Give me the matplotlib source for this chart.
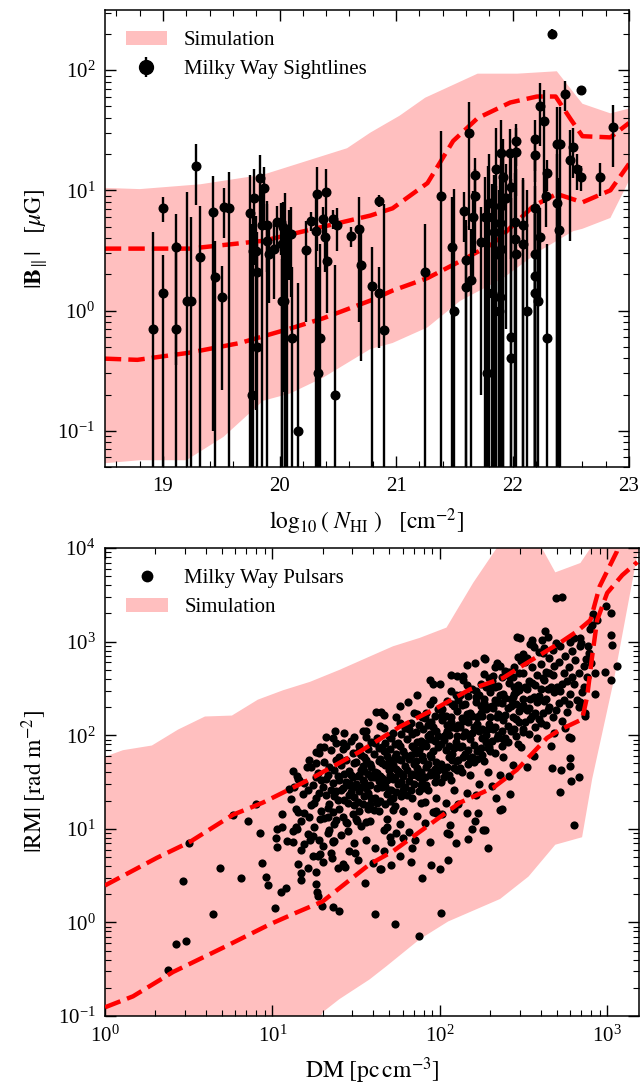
import matplotlib
matplotlib.use("Agg")
import matplotlib.pyplot as plt
import numpy as np
from matplotlib.patches import Patch
from matplotlib.ticker import MultipleLocator

plt.rcParams["font.family"] = "serif"
plt.rcParams["font.serif"] = ["Liberation Serif", "DejaVu Serif"]
plt.rcParams["mathtext.fontset"] = "stix"

# ---- top panel: Milky Way sightlines, log10(N_HI) vs |B_par| [muG]
nhi = [18.91, 19.00, 19.00, 19.11, 19.11, 19.21, 19.24, 19.28, 19.32, 19.43,
       19.45, 19.51, 19.52, 19.57, 19.75, 19.76, 19.78, 19.77, 19.80, 19.81,
       19.81, 19.83, 19.87, 19.85, 19.89, 19.89, 19.91, 19.95, 19.98, 20.01,
       20.02, 20.02, 20.03, 20.05, 20.08, 20.10, 20.06, 20.04, 20.11, 20.16,
       20.23, 20.27, 20.31, 20.32, 20.40, 20.37, 20.39, 20.41, 20.33, 20.35,
       20.46, 20.49, 20.48, 20.61, 20.68, 20.70, 20.79, 20.85, 20.85, 20.90,
       21.25, 21.39, 21.48, 21.50, 21.58, 21.60, 21.60, 21.63, 21.64, 21.66,
       21.68, 21.68, 21.73, 21.76, 21.79, 21.78, 21.80, 21.82, 21.84, 21.86,
       21.86, 21.88, 21.89, 21.90, 21.90, 21.89, 21.90, 21.92, 21.92, 21.94,
       21.98, 21.99, 21.99, 22.02, 22.02, 22.03, 22.03, 22.03, 21.99, 22.09,
       22.09, 22.12, 22.19, 22.19, 22.19, 22.19, 22.19, 22.19, 22.22, 22.24,
       22.24, 22.27, 22.30, 22.30, 22.29, 22.34, 22.38, 22.41, 22.38, 22.40,
       22.45, 22.49, 22.52, 22.55, 22.59, 22.59, 22.75, 22.86]
bpar = [0.70, 7.1, 1.39, 3.35, 0.70, 1.19, 1.19, 16.0, 2.77, 6.6,
        1.89, 1.29, 7.2, 7.1, 6.5, 0.20, 8.7, 3.15, 3.15, 2.08,
        0.50, 12.6, 10.5, 5.1, 5.1, 3.8, 2.95, 3.25, 5.4, 5.4,
        3.6, 1.19, 5.0, 4.5, 4.3, 4.3, 2.08, 1.21, 0.59, 0.10,
        3.2, 5.6, 4.6, 9.4, 9.6, 5.8, 4.1, 2.56, 0.30, 0.59,
        5.8, 5.1, 0.20, 4.2, 4.8, 2.38, 1.59, 1.39, 8.2, 0.69,
        2.08, 8.9, 3.35, 1.0, 6.7, 2.63, 1.58, 29.7, 1.8, 5.95,
        13.4, 9.0, 3.7, 5.95, 5.95, 0.30, 7.9, 1.39, 4.47, 15.0,
        2.95, 1.0, 1.29, 20.6, 7.4, 5.3, 3.25, 12.8, 8.7, 8.7,
        20.6, 0.60, 0.40, 5.4, 3.9, 2.95, 25.8, 20.9, 10.7, 5.1,
        3.6, 1.0, 26.6, 19.7, 7.1, 2.95, 1.95, 1.39, 1.19, 50.4,
        4.1, 37.8, 0.59, 13.8, 9.0, 200.0, 24.5, 24.5, 7.9, 4.7,
        63.5, 17.8, 22.7, 15.0, 12.9, 68.0, 12.9, 33.6]
berr = [3.8, 1.7, 1.5, 3.0, 3.0, 8.4, 4.8, 8.5, 4.7, 6.5,
        1.9, 1.07, 3.2, 7.2, 6.8, 5.0, 6.3, 3.5, 3.0, 1.5,
        4.0, 7.1, 5.0, 5.5, 3.0, 3.9, 1.8, 2.0, 2.0, 2.5,
        4.0, 1.5, 3.0, 5.0, 2.5, 3.0, 2.5, 1.0, 1.7, 1.6,
        2.4, 1.0, 4.8, 6.3, 5.5, 1.5, 2.0, 1.6, 2.0, 3.0,
        1.0, 2.0, 2.2, 0.8, 4.0, 2.0, 1.8, 0.9, 0.9, 7.0,
        3.2, 22.0, 5.4, 9.3, 3.0, 3.0, 3.5, 25.0, 3.0, 4.0,
        5.0, 6.0, 3.5, 7.0, 10.0, 8.0, 12.0, 10.0, 9.0, 18.0,
        8.0, 9.0, 6.0, 18.0, 9.0, 8.0, 6.0, 14.0, 10.0, 8.0,
        12.0, 8.0, 12.0, 14.0, 10.0, 12.0, 10.0, 12.0, 8.0, 7.0,
        9.0, 9.0, 12.0, 8.0, 14.0, 8.0, 6.0, 5.0, 6.0, 27.0,
        3.0, 30.0, 3.0, 4.0, 4.0, 20.0, 25.0, 25.0, 12.0, 8.0,
        18.0, 14.0, 10.0, 5.0, 3.0, 0.0, 4.0, 18.0]

# simulation band and percentile curves (log10 |B|)
sim_up_x = [18.5, 18.8, 19.32, 19.86, 20.58, 20.78, 21.03, 21.25, 21.7, 22.04, 22.38, 22.6, 22.84, 23.0]
sim_up_y = [1.02, 1.01, 1.05, 1.13, 1.35, 1.48, 1.62, 1.77, 1.97, 1.97, 1.99, 1.72, 1.64, 1.68]
sim_lo_x = [18.5, 18.8, 19.2, 19.52, 19.86, 20.09, 20.37, 20.78, 20.97, 21.27, 21.55, 21.92, 22.24, 22.52, 22.6, 22.84, 23.0]
sim_lo_y = [-1.27, -1.245, -1.245, -1.05, -0.75, -0.69, -0.56, -0.32, -0.27, -0.14, 0.08, 0.27, 0.50, 0.66, 0.68, 0.77, 1.08]
hi_pct_x = [18.5, 19.23, 19.86, 20.78, 20.97, 21.27, 21.49, 21.7, 21.98, 22.21, 22.37, 22.5, 22.6, 22.84, 23.0]
hi_pct_y = [0.515, 0.515, 0.58, 0.79, 0.85, 1.06, 1.41, 1.60, 1.73, 1.78, 1.78, 1.59, 1.45, 1.44, 1.56]
lo_pct_x = [18.5, 18.78, 19.23, 19.66, 20.09, 20.37, 20.78, 20.97, 21.27, 21.55, 21.83, 21.95, 22.18, 22.38, 22.6, 22.84, 23.0]
lo_pct_y = [-0.40, -0.41, -0.35, -0.27, -0.15, -0.066, 0.083, 0.166, 0.27, 0.41, 0.556, 0.66, 0.87, 0.97, 0.90, 1.0, 1.22]

# ---- bottom panel: simulation band and curves (log10 DM, log10 |RM|)
rm_up_x = [0.0, 0.107, 0.28, 0.436, 0.597, 0.758, 0.913, 1.063, 1.224, 1.403, 1.58, 1.72, 1.88, 2.04,
           2.20, 2.34, 2.40, 2.58, 2.61, 2.69, 2.84, 2.90, 2.95, 3.25]
rm_up_y = [1.77, 1.84, 1.89, 2.06, 2.20, 2.21, 2.38, 2.48, 2.57, 2.70, 2.84, 2.95, 3.04, 3.15,
           3.63, 4.0, 4.3, 4.3, 4.0, 3.74, 3.84, 4.0, 4.3, 4.3]
rm_lo_x = [0.0, 1.22, 1.30, 1.40, 1.58, 1.68, 1.88, 2.05, 2.36, 2.53, 2.69, 2.85, 2.91, 3.04, 3.18, 3.25]
rm_lo_y = [-1.3, -1.3, -0.96, -0.82, -0.61, -0.47, -0.18, 0.01, 0.25, 0.49, 0.83, 0.91, 1.53, 2.59, 3.93, 4.3]
rm_hi_pct_x = [0.0, 0.31, 0.507, 0.764, 0.943, 1.224, 1.522, 1.76, 1.98, 2.18, 2.28, 2.376, 2.50,
               2.72, 2.82, 2.90, 2.955, 3.057, 3.09]
rm_hi_pct_y = [0.395, 0.69, 0.86, 1.15, 1.28, 1.53, 1.825, 2.09, 2.29, 2.49, 2.55, 2.61, 2.75,
               2.99, 3.11, 3.23, 3.59, 3.96, 4.2]
rm_lo_pct_x = [0.0, 0.167, 0.406, 0.705, 0.985, 1.146, 1.30, 1.58, 1.72, 1.92, 2.12, 2.32, 2.46,
               2.64, 2.72, 2.85, 2.88, 2.91, 2.94, 3.0, 3.09, 3.18]
rm_lo_pct_y = [-0.907, -0.79, -0.53, -0.27, -0.02, 0.107, 0.224, 0.62, 0.76, 1.02, 1.28, 1.44, 1.63,
               1.97, 2.06, 2.17, 2.41, 2.84, 3.23, 3.52, 3.71, 3.85]

# Milky Way pulsars (log10 DM, log10 |RM|)
pulsars = [
    # sparse outliers
    (0.378, -0.51), (0.424, -0.235), (0.484, -0.2), (0.468, 0.44), (0.503, 0.85), (0.643, 0.085),
    (0.687, 0.58), (0.766, 1.15), (0.81, 0.47), (0.852, 1.08), (0.90, 1.27), (0.925, 0.96),
    (0.94, 0.63), (0.961, 0.49), (0.971, 0.395), (1.015, 0.15), (1.019, 0.90), (1.029, 0.81),
    (1.049, 0.33), (1.08, 0.37), (1.03, 1.0), (1.06, 1.02), (1.06, 1.16), (1.09, 0.87),
    (1.12, 0.86), (1.144, 1.0), (1.168, 0.77), (1.168, 0.53), (1.19, 1.17), (1.214, 0.94),
    (1.224, 0.885), (1.24, 0.71), (1.26, 0.54), (1.264, 0.32), (1.27, 0.28), (1.294, 0.17),
    (1.284, 1.1), (1.284, 0.73), (1.304, 0.65), (1.333, 1.13), (1.339, 0.99), (1.353, 0.69),
    (1.36, 0.16), (1.363, 0.86), (1.37, 0.87), (1.40, 0.12), (1.433, 0.59), (1.443, 1.06),
    (1.493, 0.74), (1.503, 1.08), (1.552, 0.42), (1.562, 1.07), (1.612, 0.09), (1.731, -0.02),
    (1.876, -0.146), (2.006, 0.096), (1.891, 0.477), (1.95, 0.61), (2.0, 0.566), (2.05, 0.67),
    (2.29, 0.79), (2.27, 0.99), (1.83, 0.65), (1.761, 0.71), (1.706, 0.61), (1.648, 0.57),
    (1.60, 0.64), (1.666, 0.76), (1.835, 0.79), (1.85, 0.885), (1.74, 0.957), (1.70, 0.91),
    (1.78, 0.90), (2.056, 0.94), (2.096, 0.85), (2.17, 0.89), (2.195, 1.0), (2.26, 0.99),
    (2.06, 1.045), (2.209, 1.08), (2.716, 1.39), (2.80, 1.045), (2.782, 1.51), (2.36, 1.20),
    (2.37, 1.21), (2.334, 1.33), (2.418, 1.37), (2.227, 1.17), (2.16, 1.17), (1.98, 1.19),
    (1.91, 1.29), (1.78, 1.19), (1.72, 1.20),
    (2.697, 3.465), (2.73, 3.48), (2.995, 3.38), (3.025, 3.31), (2.915, 3.30), (2.94, 3.23),
    (2.91, 3.18), (2.896, 3.13), (3.025, 3.07), (3.03, 2.96), (3.06, 2.74), (3.02, 2.59),
    (2.985, 2.68), (2.925, 2.44), (2.93, 2.67), (2.876, 2.81), (2.906, 2.77), (2.846, 2.99),
    (2.885, 2.95), (2.836, 3.04), (2.80, 3.04), (2.866, 2.24), (2.836, 2.35), (2.786, 1.97),
    (2.78, 1.76), (2.78, 1.67), (2.726, 1.63), (2.673, 1.65), (2.832, 1.55), (2.627, 3.11),
    (2.46, 3.05), (2.48, 3.04), (2.27, 2.81), (2.21, 2.77), (2.33, 2.73), (1.94, 2.59),
    (1.81, 2.35), (1.65, 2.25), (1.62, 2.25), (2.0, 2.55), (2.10, 2.63), (2.14, 2.63),
    (2.55, 2.97), (2.61, 3.02), (1.373, 2.05), (1.32, 1.98), (1.284, 1.87), (1.31, 1.87),
    (1.204, 1.66), (1.144, 1.56), (1.15, 1.53), (1.10, 1.43), (1.26, 1.82), (1.26, 1.70),
    (1.42, 1.92), (1.49, 1.98), (1.56, 2.04),
    # dense cloud
    (1.11, 1.32), (1.12, 0.98), (1.13, 1.45), (1.14, 1.21), (1.15, 0.62), (1.16, 1.52), (1.17, 1.08),
    (1.18, 1.37), (1.19, 0.84), (1.12, 1.62), (1.15, 1.18), (1.17, 0.45), (1.19, 1.49), (1.14, 1.02),
    (1.21, 1.41), (1.22, 1.13), (1.23, 1.66), (1.24, 0.92), (1.25, 1.28), (1.26, 1.55), (1.27, 0.71),
    (1.28, 1.38), (1.29, 1.19), (1.21, 0.58), (1.22, 1.74), (1.24, 1.47), (1.25, 1.02), (1.26, 1.33),
    (1.27, 1.60), (1.28, 0.88), (1.29, 1.52), (1.23, 1.25), (1.26, 0.41), (1.28, 1.81),
    (1.30, 1.45), (1.31, 1.12), (1.31, 1.71), (1.32, 1.36), (1.33, 0.95), (1.33, 1.58), (1.34, 1.27),
    (1.35, 1.84), (1.35, 0.74), (1.36, 1.49), (1.36, 1.18), (1.37, 1.63), (1.37, 1.05), (1.38, 1.40),
    (1.38, 1.92), (1.39, 1.31), (1.39, 0.58), (1.32, 1.53), (1.34, 1.66), (1.35, 1.41), (1.36, 0.87),
    (1.37, 1.35), (1.38, 1.74), (1.39, 1.56), (1.30, 0.82), (1.33, 1.22), (1.36, 1.97), (1.38, 1.09),
    (1.40, 1.52), (1.40, 1.21), (1.41, 1.68), (1.41, 0.93), (1.42, 1.44), (1.42, 1.85), (1.43, 1.31),
    (1.43, 1.59), (1.44, 1.07), (1.44, 1.73), (1.45, 1.47), (1.45, 1.28), (1.46, 1.62), (1.46, 0.76),
    (1.47, 1.39), (1.47, 1.94), (1.48, 1.55), (1.48, 1.16), (1.49, 1.70), (1.49, 1.34), (1.40, 1.77),
    (1.41, 1.42), (1.42, 1.13), (1.43, 2.02), (1.44, 1.50), (1.45, 0.98), (1.46, 1.36), (1.47, 1.58),
    (1.48, 1.45), (1.49, 0.85), (1.42, 0.62), (1.44, 1.89), (1.46, 1.49), (1.48, 1.81), (1.49, 1.25),
    (1.50, 1.48), (1.50, 1.71), (1.51, 1.29), (1.51, 1.56), (1.52, 1.88), (1.52, 1.40), (1.53, 1.03),
    (1.53, 1.63), (1.54, 1.52), (1.54, 2.05), (1.55, 1.35), (1.55, 1.77), (1.56, 1.44), (1.56, 0.88),
    (1.57, 1.59), (1.57, 1.21), (1.58, 1.69), (1.58, 1.47), (1.59, 1.93), (1.59, 1.33), (1.50, 1.11),
    (1.51, 1.82), (1.52, 1.58), (1.53, 1.45), (1.54, 1.27), (1.55, 1.62), (1.56, 1.98), (1.57, 1.38),
    (1.58, 1.08), (1.59, 1.55), (1.51, 0.67), (1.53, 1.79), (1.54, 1.67), (1.55, 1.50), (1.56, 1.74),
    (1.57, 1.85), (1.58, 1.27), (1.59, 1.66), (1.52, 1.19), (1.57, 2.14),
    (1.605, 1.55), (1.605, 1.80), (1.615, 1.33), (1.615, 1.61), (1.625, 1.97), (1.625, 1.44),
    (1.635, 1.19), (1.635, 1.72), (1.645, 1.56), (1.645, 2.10), (1.655, 1.45), (1.655, 1.87),
    (1.665, 1.51), (1.665, 0.99), (1.675, 1.68), (1.675, 1.26), (1.685, 1.78), (1.685, 1.52),
    (1.695, 1.99), (1.695, 1.41), (1.605, 1.20), (1.615, 1.92), (1.625, 1.60), (1.635, 1.51),
    (1.645, 1.30), (1.655, 1.70), (1.665, 2.08), (1.675, 1.46), (1.685, 1.10), (1.695, 1.63),
    (1.615, 0.80), (1.635, 1.86), (1.645, 1.75), (1.655, 1.54), (1.665, 1.83), (1.675, 1.92),
    (1.685, 1.37), (1.695, 1.74), (1.625, 1.28), (1.665, 2.22), (1.645, 0.57), (1.685, 1.02),
    (1.70, 1.58), (1.70, 1.85), (1.71, 1.42), (1.71, 1.70), (1.72, 2.02), (1.72, 1.53), (1.73, 1.24),
    (1.73, 1.77), (1.74, 1.64), (1.74, 2.19), (1.75, 1.48), (1.75, 1.92), (1.76, 1.60), (1.76, 1.05),
    (1.77, 1.73), (1.77, 1.35), (1.78, 1.83), (1.78, 1.56), (1.79, 2.08), (1.79, 1.45), (1.70, 1.30),
    (1.71, 1.97), (1.72, 1.68), (1.73, 1.55), (1.74, 1.39), (1.75, 1.75), (1.76, 2.13), (1.77, 1.50),
    (1.78, 1.19), (1.79, 1.67), (1.71, 0.86), (1.73, 1.91), (1.74, 1.80), (1.75, 1.62), (1.76, 1.88),
    (1.77, 2.01), (1.78, 1.41), (1.79, 1.79), (1.72, 1.33), (1.76, 2.31),
    (1.805, 1.63), (1.805, 1.96), (1.815, 1.51), (1.815, 1.75), (1.825, 2.13), (1.825, 1.58),
    (1.835, 1.33), (1.835, 1.88), (1.845, 1.69), (1.845, 2.24), (1.855, 1.57), (1.855, 2.03),
    (1.865, 1.65), (1.865, 1.14), (1.875, 1.84), (1.875, 1.40), (1.885, 1.94), (1.885, 1.61),
    (1.895, 2.19), (1.895, 1.49), (1.805, 1.36), (1.815, 2.07), (1.825, 1.79), (1.835, 1.59),
    (1.845, 1.48), (1.855, 1.81), (1.865, 2.23), (1.875, 1.55), (1.885, 1.28), (1.895, 1.78),
    (1.815, 0.97), (1.835, 2.01), (1.845, 1.86), (1.855, 1.72), (1.865, 1.93), (1.875, 2.11),
    (1.885, 1.47), (1.895, 1.89), (1.825, 1.42), (1.865, 2.43),
    (1.90, 1.74), (1.90, 2.07), (1.91, 1.55), (1.91, 1.92), (1.92, 2.24), (1.92, 1.66), (1.93, 1.41),
    (1.93, 1.99), (1.94, 1.79), (1.94, 2.33), (1.95, 1.61), (1.95, 2.14), (1.96, 1.83), (1.96, 1.18),
    (1.97, 1.94), (1.97, 1.50), (1.98, 2.04), (1.98, 1.71), (1.99, 2.28), (1.99, 1.63), (1.90, 1.44),
    (1.91, 2.18), (1.92, 1.88), (1.93, 1.69), (1.94, 1.57), (1.95, 1.96), (1.96, 2.38), (1.97, 1.64),
    (1.98, 1.33), (1.99, 1.87), (1.91, 1.06), (1.93, 2.11), (1.94, 2.01), (1.95, 1.77), (1.96, 2.09),
    (1.97, 2.21), (1.98, 1.56), (1.99, 1.99), (1.92, 1.47), (1.96, 2.55), (1.94, 0.86), (1.98, 1.17),
    (2.005, 1.91), (2.015, 2.22), (2.025, 1.63), (2.035, 2.01), (2.045, 2.37), (2.055, 1.77),
    (2.065, 1.52), (2.075, 2.09), (2.085, 1.86), (2.095, 2.43), (2.005, 1.69), (2.015, 2.16),
    (2.025, 1.95), (2.035, 1.28), (2.045, 2.05), (2.055, 1.58), (2.065, 2.14), (2.075, 1.80),
    (2.085, 2.31), (2.095, 1.72), (2.005, 1.50), (2.015, 2.28), (2.025, 1.99), (2.035, 1.84),
    (2.045, 1.66), (2.055, 2.00), (2.065, 2.47), (2.075, 1.74), (2.085, 1.41), (2.095, 1.93),
    (2.015, 1.16), (2.035, 2.20), (2.045, 2.11), (2.055, 1.88), (2.065, 2.19), (2.075, 2.33),
    (2.085, 1.65), (2.095, 2.08), (2.025, 1.55), (2.065, 2.64), (2.045, 0.96), (2.085, 1.21),
    (2.10, 1.99), (2.10, 2.26), (2.11, 1.74), (2.11, 2.11), (2.12, 2.43), (2.12, 1.87), (2.13, 1.61),
    (2.13, 2.18), (2.14, 1.99), (2.14, 2.59), (2.15, 1.80), (2.15, 2.33), (2.16, 2.01), (2.16, 1.38),
    (2.17, 2.14), (2.17, 1.69), (2.18, 2.24), (2.18, 1.96), (2.19, 2.49), (2.19, 1.77), (2.10, 1.63),
    (2.11, 2.38), (2.12, 2.09), (2.13, 1.89), (2.14, 1.77), (2.15, 2.16), (2.16, 2.54), (2.17, 1.84),
    (2.18, 1.57), (2.19, 2.02), (2.11, 1.26), (2.13, 2.32), (2.14, 2.15), (2.15, 2.03), (2.16, 2.23),
    (2.17, 2.42), (2.18, 1.76), (2.19, 2.20), (2.12, 1.65), (2.16, 2.75),
    (2.205, 2.09), (2.215, 2.41), (2.225, 1.83), (2.235, 2.20), (2.245, 2.55), (2.255, 1.97),
    (2.265, 1.72), (2.275, 2.28), (2.285, 2.07), (2.295, 2.61), (2.205, 1.90), (2.215, 2.36),
    (2.225, 2.12), (2.235, 1.48), (2.245, 2.24), (2.255, 1.79), (2.265, 2.34), (2.275, 2.00),
    (2.285, 2.52), (2.295, 1.87), (2.205, 1.71), (2.215, 2.47), (2.225, 2.19), (2.235, 2.04),
    (2.245, 1.86), (2.255, 2.21), (2.265, 2.65), (2.275, 1.93), (2.285, 1.61), (2.295, 2.12),
    (2.215, 1.36), (2.235, 2.43), (2.245, 2.31), (2.255, 2.07), (2.265, 2.39), (2.275, 2.52),
    (2.285, 1.86), (2.295, 2.30), (2.225, 1.75), (2.265, 2.83),
    (2.30, 2.19), (2.30, 2.46), (2.31, 1.94), (2.31, 2.31), (2.32, 2.63), (2.32, 2.07), (2.33, 1.81),
    (2.33, 2.38), (2.34, 2.19), (2.34, 2.77), (2.35, 2.00), (2.35, 2.53), (2.36, 2.21), (2.36, 1.58),
    (2.37, 2.34), (2.37, 1.89), (2.38, 2.44), (2.38, 2.16), (2.39, 2.69), (2.39, 1.97), (2.30, 1.83),
    (2.31, 2.58), (2.32, 2.29), (2.33, 2.09), (2.34, 1.97), (2.35, 2.36), (2.36, 2.74), (2.37, 2.04),
    (2.38, 1.77), (2.39, 2.22), (2.31, 1.46), (2.33, 2.52), (2.34, 2.35), (2.35, 2.23), (2.36, 2.43),
    (2.37, 2.62), (2.38, 1.96), (2.39, 2.40),
    (2.405, 2.29), (2.415, 2.56), (2.425, 2.04), (2.435, 2.41), (2.445, 2.73), (2.455, 2.17),
    (2.465, 1.91), (2.475, 2.48), (2.485, 2.29), (2.495, 2.87), (2.405, 2.10), (2.415, 2.63),
    (2.425, 2.31), (2.435, 1.68), (2.445, 2.44), (2.455, 1.99), (2.465, 2.54), (2.475, 2.26),
    (2.485, 2.79), (2.495, 2.07), (2.405, 1.93), (2.415, 2.68), (2.425, 2.39), (2.435, 2.19),
    (2.445, 2.07), (2.455, 2.46), (2.465, 2.84), (2.475, 2.14), (2.485, 1.87), (2.495, 2.32),
    (2.415, 1.56), (2.435, 2.62), (2.445, 2.51), (2.455, 2.33), (2.475, 2.66),
    (2.50, 2.39), (2.50, 2.66), (2.51, 2.14), (2.51, 2.51), (2.52, 2.83), (2.52, 2.27), (2.53, 2.01),
    (2.53, 2.58), (2.54, 2.39), (2.54, 2.97), (2.55, 2.20), (2.55, 2.73), (2.56, 2.41), (2.56, 1.78),
    (2.57, 2.54), (2.57, 2.09), (2.58, 2.64), (2.58, 2.36), (2.59, 2.89), (2.59, 2.17), (2.50, 2.03),
    (2.51, 2.78), (2.52, 2.49), (2.53, 2.29), (2.54, 2.17), (2.55, 2.56), (2.56, 2.94), (2.57, 2.24),
    (2.58, 1.97), (2.59, 2.42), (2.52, 1.66), (2.55, 3.02),
    (2.605, 2.49), (2.605, 2.76), (2.615, 2.24), (2.615, 2.61), (2.625, 2.93), (2.625, 2.37),
    (2.635, 2.11), (2.635, 2.68), (2.645, 2.49), (2.645, 3.05), (2.655, 2.30), (2.655, 2.83),
    (2.665, 2.51), (2.665, 1.88), (2.675, 2.64), (2.675, 2.19), (2.685, 2.74), (2.685, 2.46),
    (2.695, 2.98), (2.695, 2.27), (2.605, 2.13), (2.615, 2.88), (2.625, 2.59), (2.635, 2.39),
    (2.645, 2.27), (2.655, 2.66), (2.675, 2.91), (2.685, 2.02),
    (2.70, 2.52), (2.71, 2.78), (2.71, 2.34), (2.72, 2.95), (2.72, 2.47), (2.73, 2.15), (2.74, 2.66),
    (2.74, 2.38), (2.75, 2.85), (2.76, 2.25), (2.76, 2.58), (2.77, 2.73), (2.77, 1.98), (2.78, 2.44),
    (2.79, 2.90), (2.79, 2.62), (2.73, 2.55), (2.75, 2.08), (2.77, 2.33), (2.78, 3.00),
    (2.80, 2.55), (2.81, 2.80), (2.82, 2.38), (2.83, 2.67), (2.84, 2.95), (2.85, 2.46), (2.86, 2.74),
    (2.87, 2.20), (2.88, 2.62), (2.89, 2.88), (2.83, 2.30), (2.86, 2.52),
]

PINK = "#ffbfbf"
RED = "#ff0000"


def style_axes(ax):
    ax.tick_params(which="both", direction="in", top=True, right=True, labelsize=15)
    ax.tick_params(which="major", length=8, width=1.0, pad=7)
    ax.tick_params(which="minor", length=4.5, width=0.8)
    for sp in ax.spines.values():
        sp.set_linewidth(1.1)


fig = plt.figure(figsize=(6.42, 10.85), dpi=100)

# ---------------- top panel
ax1 = fig.add_axes([0.1632, 0.5696, 0.8166, 0.4212])
band_x = np.concatenate([sim_up_x, sim_lo_x[::-1]])
band_y = 10 ** np.concatenate([sim_up_y, sim_lo_y[::-1]])
ax1.fill(band_x, band_y, color=PINK, lw=0, zorder=1)
ax1.plot(hi_pct_x, 10 ** np.array(hi_pct_y), "--", color=RED, lw=3.2, zorder=2)
ax1.plot(lo_pct_x, 10 ** np.array(lo_pct_y), "--", color=RED, lw=3.2, zorder=2)

b = np.array(bpar)
e = np.array(berr)
lower = np.where(e >= b, b - 1e-3, e)
ax1.errorbar(nhi, b, yerr=[lower, e], fmt="o", color="k", ms=6.2,
             elinewidth=1.7, capsize=0, zorder=3)

ax1.set_yscale("log")
ax1.set_xlim(18.5, 23)
ax1.set_ylim(0.05, 316)
ax1.xaxis.set_major_locator(MultipleLocator(1))
ax1.xaxis.set_minor_locator(MultipleLocator(0.2))
style_axes(ax1)
ax1.set_xlabel(r"$\log_{10}(\ N_{\rm HI}\ )\ \ \ [{\rm cm}^{-2}]$", fontsize=17, labelpad=8)
ax1.set_ylabel(r"$|\mathbf{B}_{\!\parallel}|\ \ \ [\mu{\rm G}]$", fontsize=17, labelpad=6)

h_sim = Patch(facecolor=PINK, edgecolor="none")
h_mw = ax1.errorbar([], [], yerr=[], fmt="o", color="k", ms=10, elinewidth=1.7, capsize=0)
ax1.legend([h_sim, h_mw], ["Simulation", "Milky Way Sightlines"], loc="upper left",
           frameon=False, fontsize=15, handlelength=2.0, borderaxespad=0.6,
           labelspacing=0.45)

# ---------------- bottom panel
ax2 = fig.add_axes([0.1636, 0.0636, 0.8318, 0.4313])
band_x2 = 10 ** np.concatenate([rm_up_x, rm_lo_x[::-1]])
band_y2 = 10 ** np.concatenate([rm_up_y, rm_lo_y[::-1]])
ax2.fill(band_x2, band_y2, color=PINK, lw=0, zorder=1)
p = np.array(pulsars)
ax2.plot(10 ** p[:, 0], 10 ** p[:, 1], "o", color="k", ms=5.9, mew=0, zorder=2,
         label="Milky Way Pulsars")
ax2.plot(10 ** np.array(rm_hi_pct_x), 10 ** np.array(rm_hi_pct_y), "--", color=RED, lw=3.2, zorder=3)
ax2.plot(10 ** np.array(rm_lo_pct_x), 10 ** np.array(rm_lo_pct_y), "--", color=RED, lw=3.2, zorder=3)

ax2.set_xscale("log")
ax2.set_yscale("log")
ax2.set_xlim(1, 1550)
ax2.set_ylim(0.1, 1e4)
style_axes(ax2)
ax2.set_xlabel(r"${\rm DM}\ [{\rm pc\,cm^{-3}}]$", fontsize=17, labelpad=6)
ax2.set_ylabel(r"$|{\rm RM}|\ [{\rm rad\ m^{-2}}]$", fontsize=17, labelpad=6)

h_psr = ax2.plot([], [], "o", color="k", ms=8.5, mew=0)[0]
ax2.legend([h_psr, h_sim], ["Milky Way Pulsars", "Simulation"], loc="upper left",
           frameon=False, fontsize=15, handlelength=2.0, borderaxespad=0.6,
           labelspacing=0.45)

fig.savefig("out.png", dpi=100)
